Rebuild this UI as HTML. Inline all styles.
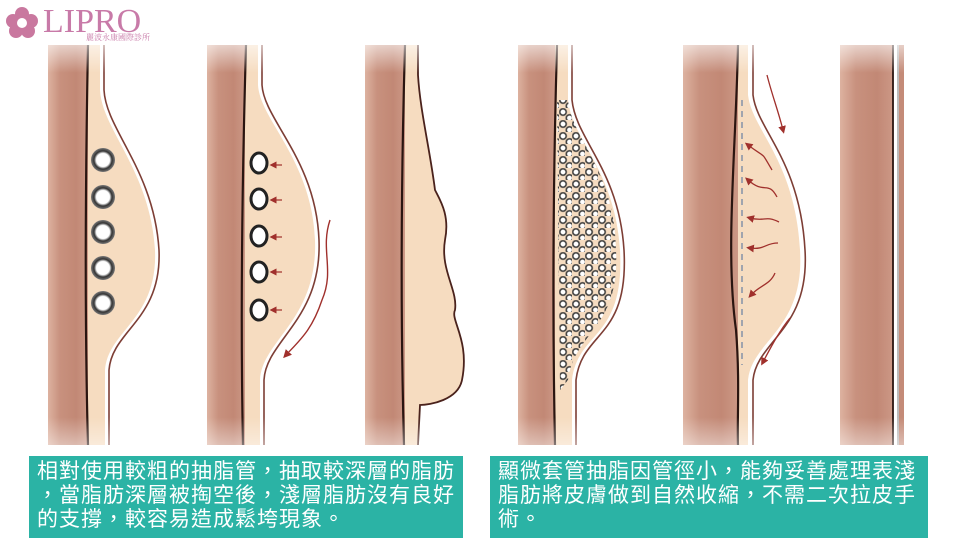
<!DOCTYPE html>
<html><head><meta charset="utf-8"><style>
body{margin:0;width:960px;height:540px;background:#fff;overflow:hidden;position:relative;font-family:"Liberation Sans","Noto Sans CJK TC",sans-serif}
.box{position:absolute;background:#2bb3a5;color:#fff;font-size:21px;line-height:24px;letter-spacing:1px;padding:4px 0 0 8px;box-sizing:border-box}
.logo{position:absolute;left:43px;top:3px;color:#c87aa8;font-family:"Liberation Serif",serif;font-size:34px;letter-spacing:0px}
.sub{position:absolute;left:86px;top:32px;color:#c87aa8;font-size:8px;font-family:"Liberation Serif","Noto Serif CJK SC",serif}
</style></head><body>
<svg width="960" height="540" style="position:absolute;left:0;top:0">
<defs>
<linearGradient id="m" x1="0" x2="1" y1="0" y2="0">
<stop offset="0" stop-color="#ddb2a0"/><stop offset="0.3" stop-color="#c8917e"/><stop offset="0.7" stop-color="#c28875"/><stop offset="1" stop-color="#cc9886"/></linearGradient>
<linearGradient id="fade" x1="0" x2="0" y1="0" y2="1">
<stop offset="0" stop-color="#fff" stop-opacity="0.7"/><stop offset="0.08" stop-color="#fff" stop-opacity="0"/><stop offset="0.92" stop-color="#fff" stop-opacity="0"/><stop offset="1" stop-color="#fff" stop-opacity="0.5"/></linearGradient>
<radialGradient id="hole"><stop offset="0.55" stop-color="#fff"/><stop offset="0.75" stop-color="#333"/><stop offset="1" stop-color="#777"/></radialGradient>
<radialGradient id="hole2"><stop offset="0.45" stop-color="#fff"/><stop offset="0.7" stop-color="#222"/><stop offset="1" stop-color="#555" stop-opacity="0.5"/></radialGradient>
<pattern id="dots" width="13" height="12" patternUnits="userSpaceOnUse">
<circle cx="4" cy="4" r="4.3" fill="url(#hole2)"/><circle cx="10.5" cy="10" r="4.3" fill="url(#hole2)"/></pattern>
<marker id="ar" markerWidth="6" markerHeight="6" refX="3" refY="3" orient="auto"><path d="M0,0 L6,3 L0,6 z" fill="#a0302c"/></marker>
</defs>
<g fill="#c9789f"><circle cx="22" cy="14" r="7"/><circle cx="31" cy="21" r="7"/><circle cx="28" cy="31" r="7"/><circle cx="16" cy="31" r="7"/><circle cx="13" cy="21" r="7"/><circle cx="22" cy="23" r="8"/></g><circle cx="22" cy="23" r="5" fill="#fff"/>

<rect x="48" y="45" width="40" height="400" fill="url(#m)"/>
<rect x="207" y="45" width="38" height="400" fill="url(#m)"/>
<rect x="365" y="45" width="40" height="400" fill="url(#m)"/>
<rect x="518" y="45" width="37" height="400" fill="url(#m)"/>
<rect x="683" y="45" width="55" height="400" fill="url(#m)"/>
<rect x="840" y="45" width="53" height="400" fill="url(#m)"/>
<rect x="899" y="45" width="5" height="400" fill="#c48b78"/>

<path d="M88,45 L100,45 L100,90 C102,130 150,170 155,250 C158,320 108,330 105,370 L105,445 L88,445 Z" fill="#f6dcc0"/>
<path d="M104,45 L104,90 C106,130 154,170 159,250 C162,320 112,330 109,370 L109,445" fill="none" stroke="#7d3e35" stroke-width="1.6"/>
<path d="M88,45 C86,150 84,300 88,445" fill="none" stroke="#2a1510" stroke-width="2.2"/>
<g fill="url(#hole)"><circle cx="103" cy="160" r="12"/><circle cx="103" cy="197" r="12"/><circle cx="103" cy="232" r="12"/><circle cx="103" cy="268" r="12"/><circle cx="103" cy="303" r="12"/></g>

<path d="M245,45 L258,45 L258,85 C260,120 312,160 315,240 C318,320 262,340 260,380 L260,445 L245,445 Z" fill="#f6dcc0"/>
<path d="M262,45 L262,85 C264,120 316,160 319,240 C322,320 266,340 264,380 L264,445" fill="none" stroke="#7d3e35" stroke-width="1.6"/>
<path d="M246,45 C243,150 240,300 243,445" fill="none" stroke="#2a1510" stroke-width="2.2"/>
<g fill="#fff" stroke="#222" stroke-width="3"><ellipse cx="259" cy="163" rx="8" ry="10"/><ellipse cx="259" cy="199" rx="8" ry="10"/><ellipse cx="259" cy="236" rx="8" ry="10"/><ellipse cx="259" cy="272" rx="8" ry="10"/><ellipse cx="259" cy="310" rx="8" ry="10"/></g>
<g stroke="#a0302c" stroke-width="1.2" marker-end="url(#ar)"><path d="M282,165 L273,165"/><path d="M282,200 L273,200"/><path d="M282,237 L273,237"/><path d="M282,272 L273,272"/><path d="M282,310 L273,310"/></g>
<path d="M330,220 C320,250 335,270 322,300 C312,330 300,340 286,355" fill="none" stroke="#a0302c" stroke-width="1.4" marker-end="url(#ar)"/>

<path d="M405,45 L418,45 L418,75 C420,110 430,150 435,190 C440,200 450,215 445,240 C440,270 458,290 455,310 C450,320 470,340 462,380 C458,400 430,405 420,405 L418,445 L405,445 Z" fill="#f6dcc0"/>
<path d="M418,45 L418,75 C420,110 430,150 435,190 C440,200 450,215 445,240 C440,270 458,290 455,310 C450,320 470,340 462,380 C458,400 430,405 420,405 L418,445" fill="none" stroke="#4a221c" stroke-width="1.8"/>
<path d="M405,45 C402,150 400,300 404,445" fill="none" stroke="#2a1510" stroke-width="2.2"/>

<path d="M555,45 L568,45 L568,100 C572,140 615,170 620,250 C625,340 578,330 572,380 L572,445 L555,445 Z" fill="#f6dcc0"/>
<path d="M557,100 L568,100 C572,140 615,170 616,250 C620,330 575,330 568,380 L560,390 Z" fill="url(#dots)"/>
<path d="M572,45 L572,100 C576,140 619,170 624,250 C629,340 582,330 576,380 L576,445" fill="none" stroke="#7d3e35" stroke-width="1.6"/>
<path d="M557,45 C554,150 552,300 555,445" fill="none" stroke="#2a1510" stroke-width="2.2"/>

<path d="M738,45 L748,45 L748,95 C752,130 795,160 800,250 C805,330 752,340 748,380 L748,445 L738,445 Z" fill="#f6dcc0"/>
<path d="M753,45 L753,95 C757,130 800,160 805,250 C810,330 757,340 753,380 L753,445" fill="none" stroke="#7d3e35" stroke-width="1.6"/>
<path d="M738,45 C736,150 725,250 736,330 C740,380 737,420 738,445" fill="none" stroke="#2a1510" stroke-width="2.2"/>
<path d="M742,100 L742,365" stroke="#8a96aa" stroke-width="1.6" stroke-dasharray="6,5"/>
<g fill="none" stroke="#a0302c" stroke-width="1.3" marker-end="url(#ar)">
<path d="M767,75 C772,95 778,110 783,130"/>
<path d="M772,170 C760,150 768,160 748,145"/>
<path d="M777,197 C768,180 765,195 748,180"/>
<path d="M779,222 C765,215 765,222 750,218"/>
<path d="M778,243 C765,243 765,250 750,248"/>
<path d="M775,273 C770,285 760,285 751,295"/>
<path d="M790,318 C780,330 772,345 763,362"/>
</g>

<path d="M893,45 L893,445" stroke="#2a1510" stroke-width="1.8"/>
<path d="M898,45 L898,445" stroke="#777" stroke-width="1"/>
<rect x="0" y="40" width="960" height="410" fill="url(#fade)"/>
</svg>
<div class="logo">LIPRO</div>
<div class="sub">麗波永康國際診所</div>
<div class="box" style="left:29px;top:456px;width:434px;height:82px">相對使用較粗的抽脂管，抽取較深層的脂肪<br>，當脂肪深層被掏空後，淺層脂肪沒有良好<br>的支撐，較容易造成鬆垮現象。</div>
<div class="box" style="left:490px;top:456px;width:438px;height:82px">顯微套管抽脂因管徑小，能夠妥善處理表淺<br>脂肪將皮膚做到自然收縮，不需二次拉皮手<br>術。</div>
</body></html>
